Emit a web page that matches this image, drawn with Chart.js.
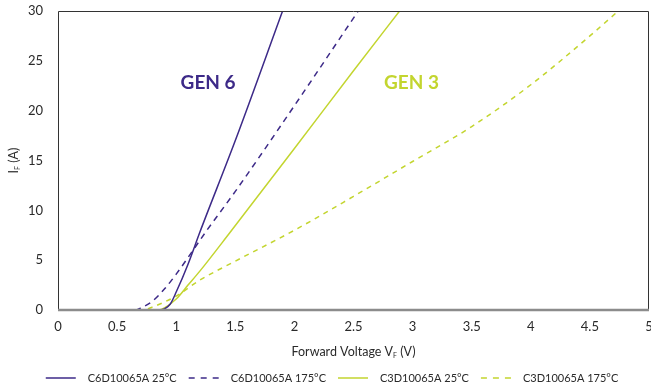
<!DOCTYPE html>
<html>
<head>
<meta charset="utf-8">
<script src="https://cdn.jsdelivr.net/npm/chart.js@4.4.1/dist/chart.umd.min.js"></script>
<style>
  html, body { margin: 0; padding: 0; background: #fff; overflow: hidden; }
</style>
</head>
<body>
<canvas id="vf-chart" width="654" height="388"></canvas>
<script>
// forward voltage (V) / forward current (A)
const c6d25_v = [0, 0.85, 0.9, 0.95, 1.0, 1.1, 1.2, 1.5, 1.9];
const c6d25_i = [0, 0, 0.1, 0.6, 1.8, 4.6, 7.8, 17.0, 30];
const c6d175_v = [0, 0.65, 0.7, 0.8, 0.9, 1.0, 1.26, 1.5, 2.0, 2.54];
const c6d175_i = [0, 0, 0.2, 0.9, 2.1, 3.6, 8.0, 11.9, 20.5, 30];
const c3d25_v = [0, 0.85, 0.9, 1.0, 1.1, 1.2, 1.45, 2.0, 2.5, 2.89];
const c3d25_i = [0, 0, 0.2, 1.1, 2.5, 3.9, 7.7, 16.2, 24.0, 30];
const c3d175_v = [0, 0.72, 0.8, 0.9, 1.0, 1.2, 1.5, 2.0, 2.5, 3.0, 3.5, 4.0, 4.5, 4.74];
const c3d175_i = [0, 0, 0.3, 0.8, 1.4, 3.0, 4.9, 8.0, 11.4, 14.9, 18.4, 22.6, 27.5, 30];

const seriesNames = ['C6D10065A 25°C', 'C6D10065A 175°C', 'C3D10065A 25°C', 'C3D10065A 175°C'];
const xTicks = [0, 0.5, 1, 1.5, 2, 2.5, 3, 3.5, 4, 4.5, 5];
const yTicks = [0, 5, 10, 15, 20, 25, 30];

const purple = '#3d2a88';
const green = '#c3d52f';
const fontName = 'Lato';
const textColor = '#2a2a2a';

function pts(xs, ys) {
    return xs.map((v, i) => ({ x: v, y: ys[i] }));
}

// frame, axis titles with subscripts, GEN labels, legend
const decor = {
    id: 'decor',
    afterDraw(chart) {
        const ctx = chart.ctx;
        const a = chart.chartArea;
        const xs = chart.scales.x, ys = chart.scales.y;
        ctx.save();
        ctx.strokeStyle = '#333';
        ctx.lineWidth = 1;
        ctx.beginPath();
        ctx.moveTo(a.left + 0.5, a.bottom);
        ctx.lineTo(a.left + 0.5, a.top + 0.5);
        ctx.lineTo(a.right - 0.5, a.top + 0.5);
        ctx.lineTo(a.right - 0.5, a.bottom);
        ctx.stroke();
        ctx.strokeStyle = '#8c8c8c';
        ctx.lineWidth = 2.5;
        ctx.beginPath();
        ctx.moveTo(a.left, a.bottom);
        ctx.lineTo(a.right, a.bottom);
        ctx.stroke();

        // x title
        ctx.fillStyle = textColor;
        ctx.textBaseline = 'middle';
        const big = '12.5px ' + fontName, small = '7px ' + fontName;
        ctx.font = big;
        const p1 = 'Forward Voltage V', p3 = ' (V)';
        const w1 = ctx.measureText(p1).width, w3 = ctx.measureText(p3).width;
        ctx.font = small;
        const w2 = ctx.measureText('F').width;
        let tx = (a.left + a.right) / 2 - (w1 + w2 + w3) / 2;
        const ty = 352;
        ctx.textAlign = 'left';
        ctx.font = big;
        ctx.fillText(p1, tx, ty);
        ctx.font = small;
        ctx.fillText('F', tx + w1, ty + 4);
        ctx.font = big;
        ctx.fillText(p3, tx + w1 + w2, ty);

        // y title
        ctx.save();
        ctx.translate(14, (a.top + a.bottom) / 2);
        ctx.rotate(-Math.PI / 2);
        ctx.font = big;
        const q1 = 'I', q3 = ' (A)';
        const v1 = ctx.measureText(q1).width, v3 = ctx.measureText(q3).width;
        let sx = -(v1 + w2 + v3) / 2;
        ctx.fillText(q1, sx, 0);
        ctx.font = small;
        ctx.fillText('F', sx + v1, 4);
        ctx.font = big;
        ctx.fillText(q3, sx + v1 + w2, 0);
        ctx.restore();

        // GEN labels
        ctx.font = 'bold 19px ' + fontName;
        ctx.textAlign = 'center';
        ctx.fillStyle = purple;
        ctx.fillText('GEN 6', xs.getPixelForValue(1.27), ys.getPixelForValue(22.8));
        ctx.fillStyle = green;
        ctx.fillText('GEN 3', xs.getPixelForValue(2.99), ys.getPixelForValue(22.8));

        // legend
        const sample = 30, gapText = 12, gapItem = 12, ly = 378;
        ctx.font = '11px ' + fontName;
        ctx.textAlign = 'left';
        const widths = chart.data.datasets.map(d => ctx.measureText(d.label).width);
        let total = 0;
        widths.forEach(w => { total += sample + gapText + w; });
        total += gapItem * (widths.length - 1);
        let lx = 332 - total / 2;
        chart.data.datasets.forEach((d, i) => {
            ctx.strokeStyle = d.borderColor;
            ctx.lineWidth = 1.5;
            ctx.setLineDash(d.borderDash ? [6, 6] : []);
            ctx.beginPath();
            ctx.moveTo(lx, ly);
            ctx.lineTo(lx + sample, ly);
            ctx.stroke();
            ctx.setLineDash([]);
            ctx.fillStyle = textColor;
            ctx.fillText(d.label, lx + sample + gapText, ly);
            lx += sample + gapText + widths[i] + gapItem;
        });
        ctx.restore();
    }
};

const ctx = document.getElementById('vf-chart');
const chart = new Chart(ctx, {
    type: 'line',
    data: {
        datasets: [
            {
                label: seriesNames[0],
                data: pts(c6d25_v, c6d25_i),
                borderColor: purple,
                borderWidth: 1.5,
                pointRadius: 0,
                cubicInterpolationMode: 'monotone'
            },
            {
                label: seriesNames[1],
                data: pts(c6d175_v, c6d175_i),
                borderColor: purple,
                borderWidth: 1.5,
                borderDash: [6, 5],
                pointRadius: 0,
                cubicInterpolationMode: 'monotone'
            },
            {
                label: seriesNames[2],
                data: pts(c3d25_v, c3d25_i),
                borderColor: green,
                borderWidth: 1.5,
                pointRadius: 0,
                cubicInterpolationMode: 'monotone'
            },
            {
                label: seriesNames[3],
                data: pts(c3d175_v, c3d175_i),
                borderColor: green,
                borderWidth: 1.5,
                borderDash: [5, 5],
                pointRadius: 0,
                cubicInterpolationMode: 'monotone'
            }
        ]
    },
    options: {
        responsive: false,
        animation: false,
        layout: { padding: { top: 11, right: 5, bottom: 22, left: 0 } },
        scales: {
            x: {
                type: 'linear',
                min: 0,
                max: 5,
                afterBuildTicks: (s) => { s.ticks = xTicks.map(v => ({ value: v })); },
                afterFit: (s) => { s.height = 56; s.paddingLeft = 0; s.paddingRight = 0; },
                grid: { display: false, drawTicks: false },
                border: { display: false },
                ticks: { color: textColor, padding: 9, font: { family: fontName, size: 13 }, maxRotation: 0, callback: (v) => String(v) }
            },
            y: {
                min: 0,
                max: 30,
                afterBuildTicks: (s) => { s.ticks = yTicks.map(v => ({ value: v })); },
                afterFit: (s) => { s.width = 58; s.paddingTop = 0; s.paddingBottom = 0; },
                grid: { display: false, drawTicks: false },
                border: { display: false },
                ticks: { color: textColor, padding: 15, font: { family: fontName, size: 13 }, callback: (v) => String(v) }
            }
        },
        plugins: {
            legend: { display: false },
            tooltip: { enabled: false }
        }
    },
    plugins: [decor]
});
</script>
</body>
</html>
